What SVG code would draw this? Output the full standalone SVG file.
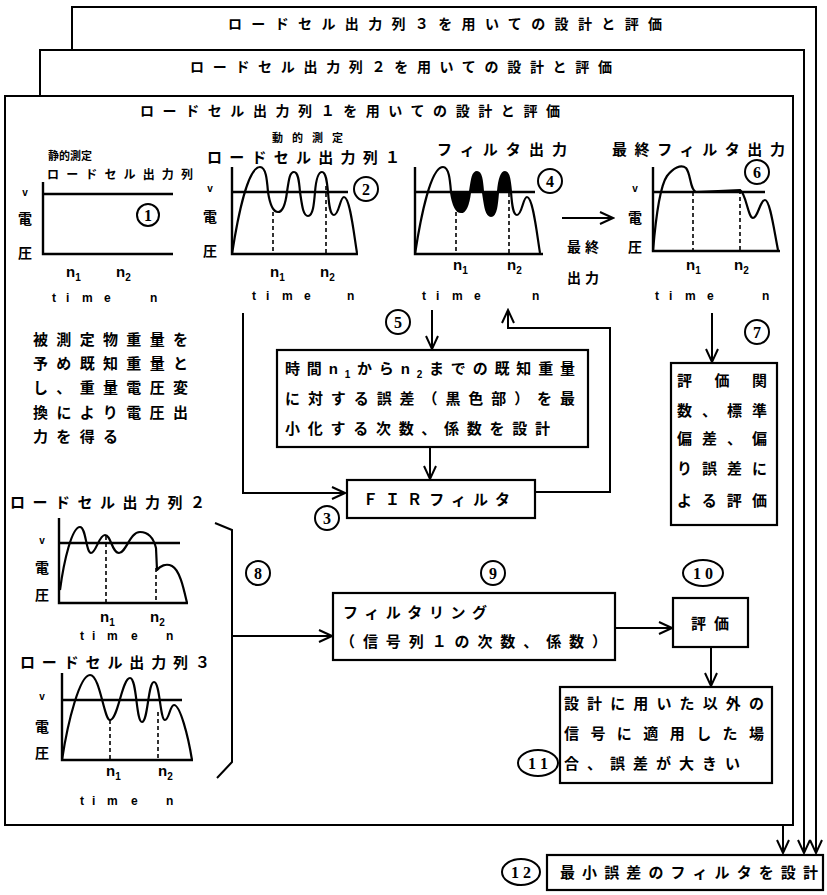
<svg xmlns="http://www.w3.org/2000/svg" width="827" height="895" viewBox="0 0 827 895">
<defs>
<marker id="ah" markerUnits="userSpaceOnUse" markerWidth="16" markerHeight="14" refX="14" refY="7" orient="auto" viewBox="0 0 16 14"><path d="M1,1 L14,7 L1,13" fill="none" stroke="#000" stroke-width="2"/></marker>
</defs>
<style>
.t{font-family:"Noto Sans CJK JP","Noto Sans CJK SC",sans-serif;font-weight:700;fill:#000}
.l{font-family:"Liberation Sans",Arial,sans-serif;font-weight:700;fill:#000}
.s{font-family:"Liberation Serif","Times New Roman",serif;font-weight:700;fill:#000;text-anchor:middle}
.fr{fill:#fff;stroke:#000;stroke-width:2}
.bx{fill:#fff;stroke:#000;stroke-width:2.2}
.ax{fill:none;stroke:#000;stroke-width:2.4}
.wv{fill:none;stroke:#000;stroke-width:2.2;stroke-linejoin:round}
.ds{fill:none;stroke:#000;stroke-width:1.6;stroke-dasharray:4 3}
.cn{fill:none;stroke:#000;stroke-width:2}
.ci{fill:#fff;stroke:#000;stroke-width:2}
</style>
<rect width="827" height="895" fill="#fff"/>

<!-- frames -->
<g id="frame3">
<path class="cn" d="M72,60 V7 H816 V853" marker-end="url(#ah)"/>
<text class="t" x="228" y="29" font-size="14" textLength="434" lengthAdjust="spacing">ロードセル出力列３を用いての設計と評価</text>
</g>
<g id="frame2">
<path class="fr" d="M40,100 V50 H804 V853" fill="none" marker-end="url(#ah)"/>
<rect x="41" y="51" width="762" height="45" fill="#fff"/>
<text class="t" x="190" y="72" font-size="14" textLength="422" lengthAdjust="spacing">ロードセル出力列２を用いての設計と評価</text>
</g>
<g id="frame1">
<rect class="fr" x="5" y="96" width="788" height="729"/>
<text class="t" x="140" y="116" font-size="14" textLength="420" lengthAdjust="spacing">ロードセル出力列１を用いての設計と評価</text>
</g>

<!-- graph 1 -->
<g id="graph1">
<text class="t" x="48" y="160" font-size="11" textLength="44" lengthAdjust="spacing">静的測定</text>
<text class="t" x="47" y="179" font-size="12" textLength="146" lengthAdjust="spacing">ロードセル出力列</text>
<path class="ax" d="M43,182 V254 H173"/>
<path class="ax" d="M43,194 H173"/>
<text class="l" x="25" y="196" font-size="10" text-anchor="middle">v</text>
<text class="t" x="25" y="224" font-size="14" text-anchor="middle">電</text>
<text class="t" x="25" y="258" font-size="14" text-anchor="middle">圧</text>
<text class="l" x="66" y="277" font-size="15">n<tspan dy="4" font-size="10">1</tspan></text>
<text class="l" x="116" y="277" font-size="15">n<tspan dy="4" font-size="10">2</tspan></text>
<text class="l" y="302" font-size="12" x="52 66 82 104 150">timen</text>
<circle class="ci" cx="148" cy="215" r="11"/><text class="s" x="148" y="221" font-size="16">1</text>
</g>

<!-- graph 2 -->
<g id="graph2">
<text class="t" x="272" y="142" font-size="11" textLength="71" lengthAdjust="spacing">動的測定</text>
<text class="t" x="207" y="163" font-size="15" textLength="193" lengthAdjust="spacing">ロードセル出力列１</text>
<path class="ax" d="M232,167 V254 H358"/>
<path class="ax" d="M232,192 H348"/>
<path class="wv" d="M232,254 C238,215 248,167 260,167 C266,167 267,180 268,192 C270,205 273,212 278,212 C284,212 286,200 287,192 C289,178 290,172 294,172 C298,172 299,180 300,192 C302,205 303,216 308,216 C313,216 314,204 315,192 C316,180 318,172 322,172 C326,172 327,182 328,192 C329,205 330,215 334,215 C339,215 340,197 344,197 C350,197 354,235 357,253"/>
<path class="ds" d="M273,212 V254 M326,186 V254"/>
<text class="l" x="210" y="192" font-size="10" text-anchor="middle">v</text>
<text class="t" x="210" y="222" font-size="14" text-anchor="middle">電</text>
<text class="t" x="210" y="256" font-size="14" text-anchor="middle">圧</text>
<text class="l" x="270" y="277" font-size="15">n<tspan dy="4" font-size="10">1</tspan></text>
<text class="l" x="320" y="277" font-size="15">n<tspan dy="4" font-size="10">2</tspan></text>
<text class="l" y="300" font-size="12" x="252 266 282 304 347">timen</text>
<circle class="ci" cx="366" cy="189" r="12"/><text class="s" x="366" y="195" font-size="16">2</text>
</g>

<!-- graph 4 -->
<g id="graph4">
<text class="t" x="437" y="155" font-size="15" textLength="130" lengthAdjust="spacing">フィルタ出力</text>
<g transform="translate(183,0)">
<path d="M268,192 C270,205 273,212 278,212 C284,212 286,200 287,192 C289,178 290,172 294,172 C298,172 299,180 300,192 C302,205 303,216 308,216 C313,216 314,204 315,192 C316,180 318,172 322,172 C326,172 327,182 328,192 Z" fill="#000"/>
<path class="ax" d="M232,167 V254 H360"/>
<path class="ax" d="M232,192 H352"/>
<path class="wv" d="M232,254 C238,215 248,167 260,167 C266,167 267,180 268,192 C270,205 273,212 278,212 C284,212 286,200 287,192 C289,178 290,172 294,172 C298,172 299,180 300,192 C302,205 303,216 308,216 C313,216 314,204 315,192 C316,180 318,172 322,172 C326,172 327,182 328,192 C329,205 330,215 334,215 C339,215 340,197 344,197 C350,197 354,235 357,253"/>
<path class="ds" d="M273,212 V254 M326,186 V254"/>
</g>
<text class="l" x="453" y="270" font-size="15">n<tspan dy="4" font-size="10">1</tspan></text>
<text class="l" x="507" y="270" font-size="15">n<tspan dy="4" font-size="10">2</tspan></text>
<text class="l" y="300" font-size="12" x="422 436 452 474 532">timen</text>
<circle class="ci" cx="550" cy="181" r="12"/><text class="s" x="550" y="187" font-size="16">4</text>
</g>

<!-- final output label -->
<g id="final">
<text class="t" x="567" y="252" font-size="14" textLength="32" lengthAdjust="spacing">最終</text>
<text class="t" x="567" y="283" font-size="14" textLength="32" lengthAdjust="spacing">出力</text>
</g>

<!-- graph 6 -->
<g id="graph6">
<text class="t" x="612" y="155" font-size="15" textLength="173" lengthAdjust="spacing">最終フィルタ出力</text>
<path class="ax" d="M653,167 V251 H780"/>
<path class="ax" d="M653,192 H765"/>
<path class="wv" d="M653,251 C656,215 660,186 667,176 C673,168 681,164 686,168 C691,174 690,190 696,192 L740,190 C746,193 748,218 753,218 C758,218 760,200 765,200 C770,200 774,230 778,250"/>
<path class="ds" d="M693,192 V251 M740,190 V251"/>
<text class="l" x="635" y="192" font-size="10" text-anchor="middle">v</text>
<text class="t" x="635" y="223" font-size="14" text-anchor="middle">電</text>
<text class="t" x="635" y="252" font-size="14" text-anchor="middle">圧</text>
<text class="l" x="686" y="270" font-size="15">n<tspan dy="4" font-size="10">1</tspan></text>
<text class="l" x="734" y="270" font-size="15">n<tspan dy="4" font-size="10">2</tspan></text>
<text class="l" y="300" font-size="12" x="655 669 685 707 762">timen</text>
<circle class="ci" cx="757" cy="172" r="12"/><text class="s" x="757" y="178" font-size="16">6</text>
</g>

<!-- left description -->
<g id="desc">
<text class="t" x="33" y="345" font-size="15" textLength="155" lengthAdjust="spacing">被測定物重量を</text>
<text class="t" x="33" y="369" font-size="15" textLength="155" lengthAdjust="spacing">予め既知重量と</text>
<text class="t" x="33" y="393" font-size="15" textLength="155" lengthAdjust="spacing">し、重量電圧変</text>
<text class="t" x="33" y="418" font-size="15" textLength="155" lengthAdjust="spacing">換により電圧出</text>
<text class="t" x="33" y="442" font-size="15" textLength="85" lengthAdjust="spacing">力を得る</text>
</g>

<!-- box 5 -->
<g id="box5">
<rect class="bx" x="277" y="350" width="311" height="97"/>
<text class="t" x="285" y="374" font-size="15" textLength="290" lengthAdjust="spacing">時間<tspan class="l">n</tspan><tspan class="l" dy="4" font-size="10">1</tspan><tspan dy="-4">から</tspan><tspan class="l">n</tspan><tspan class="l" dy="4" font-size="10">2</tspan><tspan dy="-4">までの既知重量</tspan></text>
<text class="t" x="285" y="404" font-size="15" textLength="290" lengthAdjust="spacing">に対する誤差（黒色部）を最</text>
<text class="t" x="285" y="434" font-size="15" textLength="265" lengthAdjust="spacing">小化する次数、係数を設計</text>
<circle class="ci" cx="398" cy="322" r="12"/><text class="s" x="398" y="328" font-size="16">5</text>
</g>

<!-- FIR -->
<g id="fir">
<rect class="bx" x="347" y="480" width="188" height="38"/>
<text class="t" x="363" y="505" font-size="15" textLength="147" lengthAdjust="spacing">ＦＩＲフィルタ</text>
<circle class="ci" cx="327" cy="518" r="12"/><text class="s" x="327" y="524" font-size="16">3</text>
</g>

<!-- box 7 -->
<g id="box7">
<rect class="bx" x="671" y="363" width="106" height="162"/>
<text class="t" x="677" y="386" font-size="15" textLength="90" lengthAdjust="spacing">評価関</text>
<text class="t" x="677" y="416" font-size="15" textLength="90" lengthAdjust="spacing">数、標準</text>
<text class="t" x="677" y="444" font-size="15" textLength="90" lengthAdjust="spacing">偏差、偏</text>
<text class="t" x="677" y="474" font-size="15" textLength="90" lengthAdjust="spacing">り誤差に</text>
<text class="t" x="677" y="506" font-size="15" textLength="90" lengthAdjust="spacing">よる評価</text>
<circle class="ci" cx="757" cy="332" r="12"/><text class="s" x="757" y="338" font-size="16">7</text>
</g>

<!-- load cell list 2 -->
<g id="list2">
<text class="t" x="10" y="508" font-size="15" textLength="195" lengthAdjust="spacing">ロードセル出力列２</text>
<path class="ax" d="M59,518 V603 H188"/>
<path class="ax" d="M59,543 H180"/>
<path class="wv" d="M60,590 C64,560 72,527 80,527 C86,527 86,553 91,553 C96,553 99,535 105,535 C111,535 112,553 119,553 C126,553 130,532 140,532 C150,532 154,540 156,548 L157,570 C160,566 166,563 172,566 C180,570 184,590 187,603"/>
<path class="ds" d="M106,536 V603 M156,568 V603"/>
<text class="l" x="42" y="544" font-size="10" text-anchor="middle">v</text>
<text class="t" x="42" y="573" font-size="14" text-anchor="middle">電</text>
<text class="t" x="42" y="600" font-size="14" text-anchor="middle">圧</text>
<text class="l" x="100" y="622" font-size="15">n<tspan dy="4" font-size="10">1</tspan></text>
<text class="l" x="150" y="622" font-size="15">n<tspan dy="4" font-size="10">2</tspan></text>
<text class="l" y="640" font-size="12" x="80 92 107 131 166">timen</text>
</g>

<!-- load cell list 3 -->
<g id="list3">
<text class="t" x="20" y="668" font-size="15" textLength="190" lengthAdjust="spacing">ロードセル出力列３</text>
<path class="ax" d="M62,673 V760 H193"/>
<path class="ax" d="M62,700 H182"/>
<path class="wv" d="M62,760 C68,720 80,675 90,675 C100,675 104,720 110,720 C118,720 122,678 130,678 C137,678 136,722 142,722 C148,722 148,682 154,682 C160,682 160,720 165,720 C169,720 170,705 174,705 C180,705 188,735 192,760"/>
<path class="ds" d="M110,720 V760 M158,712 V760"/>
<text class="l" x="42" y="700" font-size="10" text-anchor="middle">v</text>
<text class="t" x="42" y="732" font-size="14" text-anchor="middle">電</text>
<text class="t" x="42" y="758" font-size="14" text-anchor="middle">圧</text>
<text class="l" x="106" y="776" font-size="15">n<tspan dy="4" font-size="10">1</tspan></text>
<text class="l" x="158" y="776" font-size="15">n<tspan dy="4" font-size="10">2</tspan></text>
<text class="l" y="805" font-size="12" x="80 92 107 131 166">timen</text>
</g>

<!-- bracket 8 -->
<g id="bracket8">
<path class="cn" d="M215,523 L232,530 V762 L217,778"/>
<circle class="ci" cx="258" cy="573" r="12"/><text class="s" x="258" y="579" font-size="16">8</text>
</g>

<!-- box 9 -->
<g id="box9">
<rect class="bx" x="333" y="593" width="282" height="67"/>
<text class="t" x="343" y="618" font-size="15" textLength="144" lengthAdjust="spacing">フィルタリング</text>
<text class="t" x="340" y="647" font-size="15" textLength="267" lengthAdjust="spacing">（信号列１の次数、係数）</text>
<circle class="ci" cx="493" cy="573" r="12"/><text class="s" x="493" y="579" font-size="16">9</text>
</g>

<!-- box 10 -->
<g id="box10">
<rect class="bx" x="673" y="598" width="75" height="49"/>
<text class="t" x="710" y="629" font-size="15" text-anchor="middle" textLength="38" lengthAdjust="spacing">評価</text>
<ellipse class="ci" cx="703" cy="573" rx="20" ry="13"/><text class="s" x="703" y="579" font-size="16">1 0</text>
</g>

<!-- box 11 -->
<g id="box11">
<rect class="bx" x="560" y="687" width="212" height="96"/>
<text class="t" x="564" y="709" font-size="15" textLength="200" lengthAdjust="spacing">設計に用いた以外の</text>
<text class="t" x="564" y="739" font-size="15" textLength="200" lengthAdjust="spacing">信号に適用した場</text>
<text class="t" x="564" y="769" font-size="15" textLength="176" lengthAdjust="spacing">合、誤差が大きい</text>
<ellipse class="ci" cx="538" cy="763" rx="20" ry="13"/><text class="s" x="538" y="769" font-size="16">1 1</text>
</g>

<!-- box 12 -->
<g id="box12">
<rect class="bx" x="547" y="855" width="276" height="35"/>
<text class="t" x="560" y="878" font-size="15" textLength="258" lengthAdjust="spacing">最小誤差のフィルタを設計</text>
<ellipse class="ci" cx="521" cy="872" rx="19" ry="13"/><text class="s" x="521" y="878" font-size="16">1 2</text>
</g>

<!-- connectors -->
<g id="connectors">
<path class="cn" d="M243,313 V493 H345" marker-end="url(#ah)"/>
<path class="cn" d="M432,310 V349" marker-end="url(#ah)"/>
<path class="cn" d="M430,447 V479" marker-end="url(#ah)"/>
<path class="cn" d="M535,492 H610 V328 H508 V310" marker-end="url(#ah)"/>
<path class="cn" d="M562,218 H613" marker-end="url(#ah)"/>
<path class="cn" d="M712,313 V362" marker-end="url(#ah)"/>
<path class="cn" d="M232,636 H332" marker-end="url(#ah)"/>
<path class="cn" d="M615,628 H672" marker-end="url(#ah)"/>
<path class="cn" d="M711,647 V686" marker-end="url(#ah)"/>
<path class="cn" d="M783,825 V853" marker-end="url(#ah)"/>
</g>
</svg>
